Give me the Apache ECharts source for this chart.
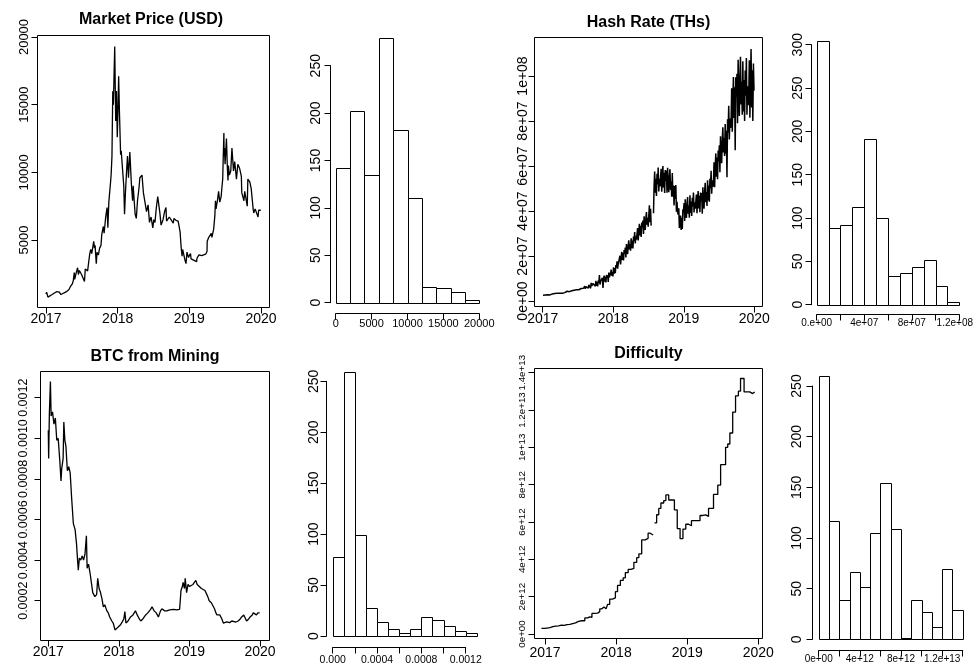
<!DOCTYPE html>
<html><head><meta charset="utf-8">
<script src="https://cdn.jsdelivr.net/npm/echarts/dist/echarts.min.js"></script>
<style>html,body{margin:0;padding:0;background:#fff}#c{width:976px;height:666px}</style>
</head><body><div id="c"></div>
<script>
// ---------------- DATA ----------------
const yearTicks = [2017, 2018, 2019, 2020];

// Market price (USD)
const priceDates = ['2017-01-01','2017-01-04','2017-01-11','2017-01-20','2017-02-01','2017-02-10','2017-02-23','2017-03-03','2017-03-10','2017-03-18','2017-03-25','2017-04-01','2017-04-15','2017-04-28','2017-05-05','2017-05-15','2017-05-20','2017-05-25','2017-05-27','2017-06-06','2017-06-11','2017-06-15','2017-06-20','2017-07-01','2017-07-10','2017-07-16','2017-07-20','2017-08-01','2017-08-05','2017-08-12','2017-08-17','2017-08-22','2017-09-01','2017-09-05','2017-09-08','2017-09-14','2017-09-18','2017-09-25','2017-10-01','2017-10-08','2017-10-12','2017-10-20','2017-10-24','2017-11-01','2017-11-08','2017-11-12','2017-11-17','2017-11-26','2017-11-29','2017-12-03','2017-12-07','2017-12-10','2017-12-13','2017-12-17','2017-12-22','2017-12-26','2017-12-30',
'2018-01-03','2018-01-06','2018-01-10','2018-01-16','2018-01-19','2018-01-28','2018-02-01','2018-02-05','2018-02-09','2018-02-15','2018-02-20','2018-02-25','2018-03-04','2018-03-12','2018-03-18','2018-03-21','2018-03-31','2018-04-06','2018-04-12','2018-04-20','2018-04-24','2018-05-05','2018-05-12','2018-05-20','2018-05-28','2018-06-05','2018-06-12','2018-06-20','2018-06-29','2018-07-04','2018-07-10','2018-07-17','2018-07-24','2018-07-29','2018-08-04','2018-08-10','2018-08-14','2018-08-20','2018-08-28','2018-09-04','2018-09-07','2018-09-15','2018-09-21','2018-10-01','2018-10-11','2018-10-15','2018-10-25','2018-11-05','2018-11-13','2018-11-15','2018-11-20','2018-11-25','2018-11-28','2018-12-04','2018-12-10','2018-12-15','2018-12-20','2018-12-24','2018-12-28',
'2019-01-01','2019-01-07','2019-01-10','2019-01-20','2019-02-07','2019-02-09','2019-02-19','2019-02-24','2019-03-05','2019-03-15','2019-03-25','2019-04-01','2019-04-02','2019-04-10','2019-04-14','2019-04-23','2019-04-26','2019-05-05','2019-05-11','2019-05-14','2019-05-17','2019-05-25','2019-05-30','2019-06-05','2019-06-12','2019-06-16','2019-06-20','2019-06-22','2019-06-26','2019-06-27','2019-06-29','2019-07-02','2019-07-09','2019-07-14','2019-07-17','2019-07-19','2019-07-24','2019-07-31','2019-08-06','2019-08-14','2019-08-20','2019-08-29','2019-09-05','2019-09-14','2019-09-23','2019-09-25','2019-10-06','2019-10-10','2019-10-23','2019-10-26','2019-11-05','2019-11-12','2019-11-22','2019-11-25','2019-12-02','2019-12-10','2019-12-17','2019-12-20','2019-12-25','2019-12-31'];
const priceValues = [1000,1150,780,895,970,1000,1180,1270,1150,970,930,1080,1180,1340,1550,1750,2000,2600,2100,2700,2950,2450,2750,2450,2400,1930,2850,2720,3200,4000,4300,4000,4900,4400,4600,3250,4100,3900,4400,4600,5400,6000,5500,6700,7400,5900,7800,9300,9900,11200,16000,15000,16800,19300,13800,16000,12600,
14800,17100,14500,11300,11600,11500,9000,6900,8300,10000,11200,9600,11500,9100,7900,9000,6900,6600,7900,8900,9600,9800,8500,8500,7100,7600,6300,6700,5900,6500,6300,7400,8200,8200,7000,6100,6200,6500,7100,7400,6400,6500,6700,6600,6250,6600,6450,6400,6350,5600,4500,3800,4300,3900,3500,3250,4100,4000,3700,
3850,4000,3600,3550,3400,3650,3900,3800,3850,3900,3950,4150,4900,5200,5100,5500,5200,5800,6800,7900,7300,8000,8600,7800,8200,8900,9500,10700,12900,11200,11800,10600,12500,10200,9400,10500,9800,10100,11800,10100,10800,9500,10600,10300,9700,8500,7900,8600,7500,9500,9300,8800,7300,7000,7300,7300,6700,7200,7250,7200];

// Hash rate, in millions of TH/s: ten readings per month, Jan 2017 .. Dec 2019 (null = missing)
const hashFirstYear = 2017;
const hashByMonth = [
[2.56,2.36,2.55,2.39,2.67,2.59,2.81,2.58,2.76,2.71],
[2.74,3.02,2.72,2.98,3.18,2.90,3.16,2.90,3.28,3.16],
[3.34,3.06,3.48,3.28,3.22,3.50,3.66,3.40,3.58,3.40],
[3.81,3.46,3.76,3.48,3.93,3.78,4.13,3.73,4.01,3.91],
[3.91,4.33,3.88,4.27,4.57,4.15,4.54,4.15,4.72,4.54],
[4.94,4.44,5.17,4.81,4.69,5.17,5.44,4.98,5.28,4.96],
[5.74,5.01,5.58,5.00,5.87,5.54,6.21,5.38,5.90,5.67],
[5.58,6.64,5.38,6.36,7.10,5.82,6.80,5.70,7.16,6.62],
[7.47,5.65,8.03,6.69,6.19,7.73,8.55,6.85,7.79,6.57],
[9.01,6.73,8.35,6.52,9.04,7.96,11.5,7.30,8.77,7.99],
[7.97,10.33,5.80,9.65,11.29,8.61,10.79,8.29,11.55,10.31],
[11.44,8.52,12.6,10.48,9.76,12.44,13.92,11.2,12.88,10.96],
[15.0,12.2,14.6,12.4,16.0,14.8,17.6,14.4,16.6,15.8],
[16.7,20.1,16.3,19.4,21.8,18.2,21.4,18.0,22.7,21.1],
[23.7,19.3,25.3,22.1,20.9,24.9,27.0,22.9,25.3,22.4],
[27.9,23.5,26.9,23.4,28.6,26.6,30.6,25.6,28.7,27.3],
[27.8,32.4,26.9,31.1,34.3,29.1,33.4,28.5,34.9,32.5],
[35.8,29.8,37.7,33.3,31.6,36.8,39.5,33.9,37.0,33.0],
[38.0,42.5,35.0,41.0,33.5,null,null,null,39.0,51.0],
[57.5,48.1,54.3,46.7,56.5,51.9,59.3,48.7,54.3,50.9],
[51.6,58.8,48.6,55.2,60.0,50.4,57.0,48.0,58.2,53.4],
[58.0,48.1,59.2,51.7,48.4,55.3,58.6,49.3,53.2,46.3],
[56.9,46.3,51.3,42.5,51.1,45.3,51.5,39.7,44.1,39.5],
[38.4,41.2,32.4,35.8,38.0,31.6,37.0,32.0,40.8,39.6],
[43.5,35.6,45.2,39.3,36.9,43.1,46.2,38.8,42.4,37.0],
[47.0,39.1,44.2,37.8,45.9,42.0,48.2,39.3,43.9,41.0],
[41.1,47.3,39.0,44.7,48.9,41.1,46.8,39.5,48.2,44.4],
[48.0,38.8,50.5,43.7,41.0,48.6,52.5,43.9,48.4,42.2],
[53.7,44.7,51.3,44.1,54.3,50.1,57.9,47.7,53.7,50.7],
[52.4,61.7,50.6,59.2,65.6,55.2,63.8,54.1,66.9,62.1],
[69.2,57.2,73.2,64.4,61.2,71.6,77.2,66.0,72.4,64.4],
[78.7,65.5,75.7,55.0,80.8,74.8,86.8,71.8,81.1,76.9],
[79.2,94.6,75.2,89.4,99.5,81.3,95.0,67.0,99.4,90.8],
[101.0,79.0,107.2,90.0,82.2,99.8,108.6,87.3,97.6,82.8],
[106.6,84.2,98.2,80.0,102.4,91.2,108.0,82.8,95.4,87.0],
[89.0,107.0,81.5,98.0,112.0,86.0,102.5,80.0,105.5,93.5]];

// BTC from mining, read as (decimal year, value)
const btcT = [2017.00,2017.005,2017.015,2017.03,2017.04,2017.06,2017.08,2017.10,2017.12,2017.14,2017.165,2017.18,2017.19,2017.21,2017.22,2017.235,2017.25,2017.27,2017.29,2017.31,2017.33,2017.355,2017.38,2017.40,2017.415,2017.425,2017.44,2017.46,2017.48,2017.50,2017.52,2017.54,2017.55,2017.57,2017.59,2017.61,2017.63,2017.66,2017.685,2017.70,2017.72,2017.74,2017.76,2017.78,2017.80,2017.83,2017.85,2017.87,2017.90,2017.92,2017.945,2017.97,2017.99,2018.02,2018.05,2018.07,2018.085,2018.10,2018.13,2018.165,2018.20,2018.235,2018.26,2018.29,2018.31,2018.34,2018.38,2018.41,2018.45,2018.47,2018.50,2018.53,2018.56,2018.59,2018.61,2018.65,2018.68,2018.72,2018.77,2018.82,2018.86,2018.87,2018.88,2018.90,2018.91,2018.93,2018.94,2018.96,2018.98,2019.00,2019.02,2019.05,2019.07,2019.09,2019.11,2019.14,2019.17,2019.19,2019.22,2019.24,2019.26,2019.28,2019.31,2019.33,2019.355,2019.375,2019.39,2019.41,2019.43,2019.46,2019.48,2019.50,2019.53,2019.55,2019.57,2019.60,2019.62,2019.66,2019.69,2019.72,2019.74,2019.77,2019.79,2019.81,2019.84,2019.86,2019.89,2019.905,2019.92,2019.95,2019.97,2019.995];
const btcV = [0.00104,0.00090,0.00112,0.00128,0.00111,0.00113,0.00107,0.00110,0.00099,0.00100,0.00088,0.00079,0.00085,0.00090,0.00108,0.00099,0.00096,0.00084,0.00086,0.00083,0.00071,0.00058,0.00055,0.00048,0.00040,0.00035,0.00041,0.00040,0.00042,0.00040,0.00043,0.00052,0.00036,0.00038,0.00034,0.00029,0.00024,0.00022,0.00023,0.00031,0.00026,0.00024,0.00021,0.00017,0.00018,0.00015,0.00014,0.00012,0.00010,0.00009,0.000056,0.000056,0.00007,0.00008,0.000097,0.00011,0.000146,0.00009,0.00010,0.00012,0.00013,0.00015,0.00013,0.00011,0.00010,0.00011,0.00013,0.00014,0.000157,0.00017,0.00015,0.00014,0.00012,0.00015,0.00016,0.00015,0.00015,0.000155,0.000157,0.000155,0.000157,0.00020,0.00025,0.00027,0.00029,0.00026,0.00031,0.00024,0.00028,0.00027,0.00027,0.00028,0.00029,0.00030,0.00028,0.00027,0.00026,0.00026,0.00025,0.00025,0.00022,0.00020,0.00019,0.00019,0.00016,0.00014,0.00013,0.000125,0.00013,0.00011,0.00009,0.000085,0.000096,0.000088,0.000092,0.00010,0.0001,0.000095,0.0001,0.00011,0.00012,0.00013,0.000125,0.0001,0.00011,0.00012,0.00013,0.00014,0.000146,0.00013,0.00014,0.00014];

// Difficulty (x 1e12), adjustment points as (decimal year, value); null = missing data
const diffT = [2016.95,2016.99,2017.03,2017.07,2017.11,2017.15,2017.19,2017.23,2017.27,2017.31,2017.35,2017.39,2017.43,2017.47,2017.52,2017.56,2017.60,2017.63,2017.66,2017.70,2017.74,2017.77,2017.80,2017.83,2017.86,2017.88,2017.91,2017.95,2017.99,2018.02,2018.06,2018.10,2018.13,2018.17,2018.21,2018.25,2018.29,2018.32,2018.36,2018.41,2018.45,2018.48,2018.505,2018.52,2018.54,2018.57,2018.60,2018.63,2018.67,2018.70,2018.74,2018.78,2018.82,2018.86,2018.90,2018.94,2018.98,2019.02,2019.06,2019.10,2019.14,2019.18,2019.22,2019.26,2019.30,2019.37,2019.43,2019.47,2019.54,2019.57,2019.60,2019.64,2019.68,2019.72,2019.75,2019.80,2019.84,2019.88,2019.92,2019.95];
const diffVT = [0.30,0.32,0.34,0.39,0.42,0.44,0.47,0.46,0.50,0.52,0.56,0.60,0.68,0.71,0.71,0.86,0.92,0.89,1.10,1.12,1.20,1.35,1.45,1.35,1.35,1.59,1.87,1.93,2.27,2.60,2.87,3.01,3.29,3.46,3.51,3.84,4.09,4.29,5.04,5.12,5.40,5.30,5.30,null,5.95,6.39,6.73,7.02,7.15,7.45,7.18,7.18,6.65,5.65,5.11,5.62,5.88,5.80,6.07,6.07,6.07,6.35,6.38,6.30,6.73,7.48,7.98,9.07,10.0,10.18,10.77,11.89,12.76,13.01,13.69,12.97,12.97,12.88,12.97,13.0];

// Histogram breaks and counts
const priceBreaks = [0,2000,4000,6000,8000,10000,12000,14000,16000,18000,20000];
const priceCounts = [142,202,135,279,182,110,17,16,11,3];
const hashBreaks = [0,1e7,2e7,3e7,4e7,5e7,6e7,7e7,8e7,9e7,1e8,1.1e8,1.2e8];
const hashCounts = [304,89,92,113,191,100,33,37,43,52,22,3];
const btcBreaks = [0,0.0001,0.0002,0.0003,0.0004,0.0005,0.0006,0.0007,0.0008,0.0009,0.0010,0.0011,0.0012,0.0013];
const btcCounts = [78,259,99,27,14,7,3,7,19,16,10,5,3];
const diffBreaks = [0,1e12,2e12,3e12,4e12,5e12,6e12,7e12,8e12,9e12,1e13,1.1e13,1.2e13,1.3e13,1.4e13];
const diffCounts = [260,117,39,66,52,105,154,109,1,39,27,12,69,29];

// Tick labels of histogram x axes (one per tick, '' = tick without label)
const hashHistTickLabels = ['0.e+00','','4e+07','','8e+07','','1.2e+08'];
const btcHistTickLabels = ['0.000','','0.0004','','0.0008','','0.0012'];
const diffHistTickLabels = ['0e+00','','4e+12','','8e+12','','1.2e+13',''];

// ---------------- BUILD ----------------
const FONT = '"Liberation Sans", Arial, Helvetica, sans-serif';
function toYear(ms) {
  const d = new Date(ms); const y = d.getUTCFullYear();
  const s = Date.UTC(y, 0, 1), e = Date.UTC(y + 1, 0, 1);
  return y + (ms - s) / (e - s);
}
const dateYear = s => toYear(Date.parse(s + 'T00:00:00Z'));
const priceT = priceDates.map(dateYear);
const hashT = [], hashV = [];
hashByMonth.forEach((vals, m) => vals.forEach((v, k) => {
  hashT.push(hashFirstYear + (m + (k + 0.5) / vals.length) / 12);
  hashV.push(v == null ? null : v * 1e6);
}));
const diffV = diffVT.map(v => v == null ? null : v * 1e12);

function rExp(v) {
  if (Math.abs(v) < 1e-300) return '0e+00';
  const s = Number(v.toPrecision(6)).toExponential();
  return s.replace(/e([+-])(\d+)$/, (m, sg, d) => 'e' + sg + (d.length < 2 ? '0' + d : d));
}

const grids = [], xAxes = [], yAxes = [], series = [], titles = [];
const lin = (v, c) => c[0][1] + (v - c[0][0]) * (c[1][1] - c[0][1]) / (c[1][0] - c[0][0]);
const inv = (p, c) => c[0][0] + (p - c[0][1]) * (c[1][0] - c[0][0]) / (c[1][1] - c[0][1]);
function addGrid(g, xa, ya) {
  const i = grids.length;
  grids.push(Object.assign({ containLabel: false, outerBoundsMode: 'none' }, g));
  xAxes.push(Object.assign({ gridIndex: i, type: 'value' }, xa));
  yAxes.push(Object.assign({ gridIndex: i, type: 'value' }, ya));
  return i;
}
const hidden = (min, max) => ({ show: false, min, max, splitLine: { show: false } });
function axisStyle(fontSize, margin, fmt, rotate, rich) {
  return {
    axisLine: { show: true, onZero: false, lineStyle: { color: '#000', width: 1 } },
    axisTick: { show: true, inside: false, length: 6, lineStyle: { color: '#000', width: 1 } },
    splitLine: { show: false },
    axisLabel: { show: true, color: '#000', fontFamily: FONT, fontSize, margin, rotate: rotate || 0,
      formatter: fmt, showMinLabel: true, showMaxLabel: true, hideOverlap: false, rich: rich || {} }
  };
}
function xAxisGrid(left, right, lineY, t, font, margin, fmt, rich) {
  addGrid({ left, top: lineY - 20, width: right - left, height: 20 },
    Object.assign({ min: t[0], max: t[1], interval: t[2], position: 'bottom' }, axisStyle(font, margin, fmt, 0, rich)),
    hidden(0, 1));
}
function yAxisGrid(lineX, top, bottom, t, font, margin, fmt) {
  addGrid({ left: lineX, top, width: 20, height: bottom - top }, hidden(0, 1),
    Object.assign({ min: t[0], max: t[1], interval: t[2], position: 'left' }, axisStyle(font, margin, fmt, 90)));
}
function linePanel(p, xs, ys, extra) {
  const [L, T, R, B] = p.box;
  const gi = addGrid({ left: L, top: T, width: R - L, height: B - T, show: true, borderColor: '#000', borderWidth: 1, backgroundColor: 'rgba(0,0,0,0)' },
    hidden(inv(L, p.xc), inv(R, p.xc)), hidden(inv(B, p.yc), inv(T, p.yc)));
  series.push(Object.assign({ type: 'line', xAxisIndex: gi, yAxisIndex: gi, data: xs.map((x, i) => [x, ys[i]]),
    showSymbol: false, symbol: 'none', connectNulls: false, clip: true, silent: true,
    lineStyle: { color: '#000', width: p.lw || 1.3 }, itemStyle: { color: '#000' } }, extra || {}));
  const xt = [yearTicks[0], yearTicks[yearTicks.length - 1], 1];
  xAxisGrid(lin(xt[0], p.xc), lin(xt[1], p.xc), B, xt, p.xFont, p.xMargin, v => String(Math.round(v)));
  yAxisGrid(L, lin(p.yt[1], p.yc), lin(p.yt[0], p.yc), p.yt, p.yFont, p.yMargin, p.yFmt);
  titles.push({ text: p.title, left: p.tx, top: p.ty - 9, textAlign: 'center', padding: 0,
    textStyle: { fontFamily: FONT, fontSize: 16, fontWeight: 'bold', color: '#000' } });
}
function histPanel(p, breaks, counts, xFmt, rich) {
  const x0 = breaks[0], x1 = breaks[breaks.length - 1];
  const ymaxG = Math.max(...counts) * 1.05;
  const left = lin(x0, p.xc), right = lin(x1, p.xc), bottom = lin(0, p.yc), top = lin(ymaxG, p.yc);
  const gi = addGrid({ left, top, width: right - left, height: bottom - top }, hidden(x0, x1), hidden(0, ymaxG));
  series.push({ type: 'custom', xAxisIndex: gi, yAxisIndex: gi, silent: true, clip: false,
    data: counts.map((c, i) => [breaks[i], breaks[i + 1], c]), encode: { x: [0, 1], y: 2 },
    renderItem: (params, api) => {
      const a = api.coord([api.value(0), api.value(2)]);
      const b = api.coord([api.value(1), 0]);
      const xa = Math.round(a[0]) + 0.5, xb = Math.round(b[0]) + 0.5, ya = Math.round(a[1]) + 0.5, yb = Math.round(b[1]) + 0.5;
      return { type: 'rect', shape: { x: xa, y: ya, width: xb - xa, height: yb - ya },
        style: { fill: '#fff', stroke: '#000', lineWidth: 1 } };
    } });
  xAxisGrid(lin(p.xt[0], p.xc), lin(p.xt[1], p.xc), p.xAxisY, p.xt, p.xFont, p.xMargin, xFmt, rich);
  yAxisGrid(p.yAxisX, lin(p.yt[1], p.yc), lin(p.yt[0], p.yc), p.yt, p.yFont, p.yMargin, v => String(Math.round(v)));
}
const fromList = (labels, t) => v => { const k = Math.round((v - t[0]) / t[2]); return labels[k] != null ? labels[k] : ''; };

// Panel layout (pixels)
linePanel({ box: [37.5, 35.5, 269.5, 307.5], xc: [[2017, 46], [2020, 261]], yc: [[5000, 240], [20000, 37]],
  yt: [5000, 20000, 5000], yFont: 13, yMargin: 7, xFont: 14, xMargin: 5, yFmt: v => String(Math.round(v)),
  title: 'Market Price (USD)', tx: 151, ty: 20.7 }, priceT, priceValues);
const pB = { yAxisX: 330.5, yc: [[0, 302.7], [250, 65.7]], xc: [[0, 335.7], [20000, 479.3]], xAxisY: 313.5,
  yt: [0, 250, 50], xt: [0, 20000, 5000], yFont: 14, yMargin: 7, xFont: 11, xMargin: 4.5 };
histPanel(pB, priceBreaks, priceCounts, v => String(Math.round(v)));

linePanel({ box: [534.5, 37.5, 762.5, 306.5], xc: [[2017, 542.7], [2020, 754.3]], yc: [[0, 301], [1e8, 76]],
  yt: [0, 1e8, 2e7], yFont: 14, yMargin: 4, xFont: 14, xMargin: 6, yFmt: rExp, lw: 1.5,
  title: 'Hash Rate (THs)', tx: 648.5, ty: 23.3 }, hashT, hashV);
const pD = { yAxisX: 811.5, yc: [[0, 304.7], [300, 44.7]], xc: [[0, 816.7], [1.2e8, 959.3]], xAxisY: 314.5,
  yt: [0, 300, 50], xt: [0, 1.2e8, 2e7], yFont: 14, yMargin: 6.5, xFont: 10, xMargin: 4 };
const hashHistFmt = fromList(hashHistTickLabels, pD.xt);
histPanel(pD, hashBreaks, hashCounts,
  v => { const s = hashHistFmt(v); return s === hashHistTickLabels[hashHistTickLabels.length - 1] ? '{r|' + s + '}' : s; },
  { r: { fontFamily: FONT, fontSize: 10, color: '#000', padding: [0, 9, 0, 0] } });

linePanel({ box: [40.5, 371.5, 269.5, 640.5], xc: [[2017, 48.3], [2020, 260]], yc: [[0.0002, 600.7], [0.0012, 397.7]],
  yt: [0.0002, 0.0012, 0.0002], yFont: 12.5, yMargin: 10, xFont: 14, xMargin: 5, yFmt: v => v.toFixed(4),
  title: 'BTC from Mining', tx: 155, ty: 358 }, btcT, btcV);
const pF = { yAxisX: 326.5, yc: [[0, 636], [250, 381.3]], xc: [[0, 332.7], [0.0012, 465.7]], xAxisY: 647.5,
  yt: [0, 250, 50], xt: [0, 0.0012, 0.0002], yFont: 14, yMargin: 5.5, xFont: 10.5, xMargin: 7 };
histPanel(pF, btcBreaks, btcCounts, fromList(btcHistTickLabels, pF.xt));

linePanel({ box: [534.5, 368.5, 762.5, 638.5], xc: [[2017, 545], [2020, 758.3]], yc: [[0, 634], [1.4e13, 372.7]],
  yt: [0, 1.4e13, 2e12], yFont: 9.8, yMargin: 7, xFont: 14, xMargin: 8, yFmt: rExp,
  title: 'Difficulty', tx: 648.5, ty: 355 }, diffT, diffV, { step: 'end' });
const pH = { yAxisX: 812.5, yc: [[0, 639.3], [250, 386]], xc: [[0, 818.7], [1.4e13, 962.7]], xAxisY: 650.5,
  yt: [0, 250, 50], xt: [0, 1.4e13, 2e12], yFont: 14, yMargin: 8, xFont: 10, xMargin: 4 };
histPanel(pH, diffBreaks, diffCounts, fromList(diffHistTickLabels, pH.xt));

const chart = echarts.init(document.getElementById('c'), null, { renderer: 'canvas' });
chart.setOption({ animation: false, backgroundColor: '#fff', title: titles, grid: grids, xAxis: xAxes, yAxis: yAxes, series });
</script>
</body></html>
